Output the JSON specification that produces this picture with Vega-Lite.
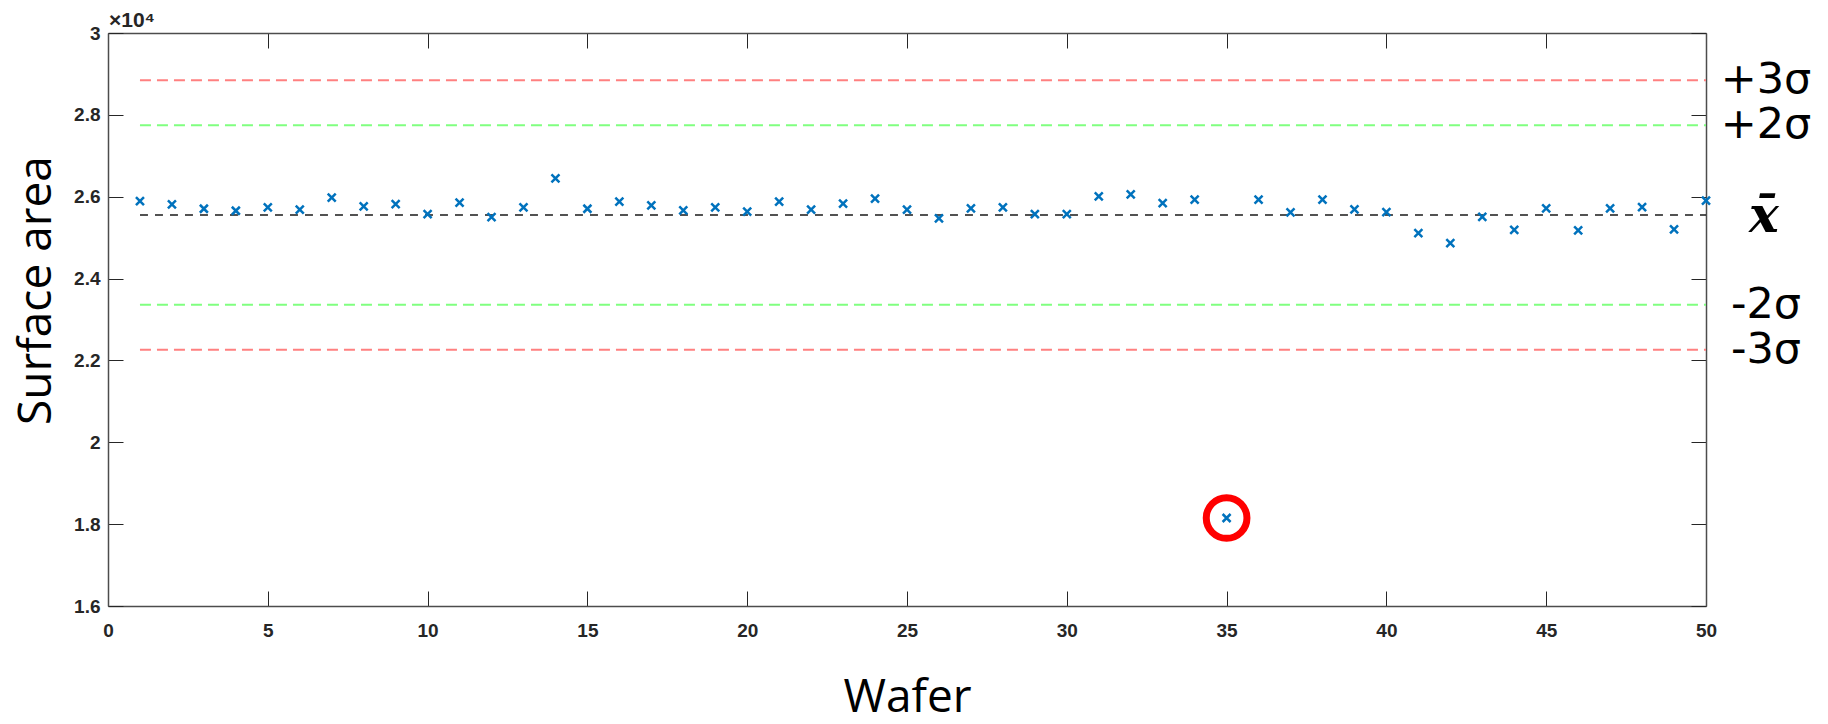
{
  "$schema": "https://vega.github.io/schema/vega-lite/v6.json",
  "width": 1598,
  "height": 573,
  "autosize": "none",
  "padding": {"left": 108, "top": 33, "right": 122, "bottom": 118},
  "background": "white",
  "config": {
    "view": {"stroke": null},
    "axis": {
      "grid": false,
      "domainColor": "#4d4d4d",
      "domainWidth": 1.5,
      "tickColor": "#262626",
      "tickWidth": 1,
      "tickSize": -15,
      "labelFont": "Liberation Sans",
      "labelFontWeight": "bold",
      "labelFontSize": 19,
      "labelColor": "#262626",
      "labelFlush": false,
      "labelOverlap": false
    }
  },
  "datasets": {
    "wafers": [
      {"wafer": 1, "area": 25894}, {"wafer": 2, "area": 25812}, {"wafer": 3, "area": 25706},
      {"wafer": 4, "area": 25657}, {"wafer": 5, "area": 25739}, {"wafer": 6, "area": 25682},
      {"wafer": 7, "area": 25976}, {"wafer": 8, "area": 25763}, {"wafer": 9, "area": 25820},
      {"wafer": 10, "area": 25576}, {"wafer": 11, "area": 25853}, {"wafer": 12, "area": 25502},
      {"wafer": 13, "area": 25739}, {"wafer": 14, "area": 26449}, {"wafer": 15, "area": 25706},
      {"wafer": 16, "area": 25878}, {"wafer": 17, "area": 25788}, {"wafer": 18, "area": 25665},
      {"wafer": 19, "area": 25739}, {"wafer": 20, "area": 25633}, {"wafer": 21, "area": 25878},
      {"wafer": 22, "area": 25682}, {"wafer": 23, "area": 25829}, {"wafer": 24, "area": 25951},
      {"wafer": 25, "area": 25682}, {"wafer": 26, "area": 25469}, {"wafer": 27, "area": 25714},
      {"wafer": 28, "area": 25739}, {"wafer": 29, "area": 25576}, {"wafer": 30, "area": 25576},
      {"wafer": 31, "area": 26008}, {"wafer": 32, "area": 26057}, {"wafer": 33, "area": 25845},
      {"wafer": 34, "area": 25927}, {"wafer": 35, "area": 18150}, {"wafer": 36, "area": 25927},
      {"wafer": 37, "area": 25616}, {"wafer": 38, "area": 25927}, {"wafer": 39, "area": 25690},
      {"wafer": 40, "area": 25624}, {"wafer": 41, "area": 25110}, {"wafer": 42, "area": 24865},
      {"wafer": 43, "area": 25510}, {"wafer": 44, "area": 25192}, {"wafer": 45, "area": 25714},
      {"wafer": 46, "area": 25176}, {"wafer": 47, "area": 25714}, {"wafer": 48, "area": 25747},
      {"wafer": 49, "area": 25200}, {"wafer": 50, "area": 25902}
    ],
    "limits": [
      {"label": "+3σ", "value": 28844, "level": "3σ"},
      {"label": "+2σ", "value": 27747, "level": "2σ"},
      {"label": "x̄", "value": 25553, "level": "mean"},
      {"label": "-2σ", "value": 23359, "level": "2σ"},
      {"label": "-3σ", "value": 22262, "level": "3σ"}
    ],
    "exponent": [
      {"label": "×10⁴"}
    ]
  },
  "layer": [
    {
      "data": {"name": "limits"},
      "mark": {"type": "rule"},
      "encoding": {
        "x": {
          "datum": 1, "type": "quantitative",
          "scale": {"domain": [0, 50], "nice": false, "zero": false},
          "axis": {
            "orient": "bottom",
            "values": [0, 5, 10, 15, 20, 25, 30, 35, 40, 45, 50],
            "labelPadding": 30,
            "title": "Wafer",
            "titleFont": "Open Sans",
            "titleFontSize": 46,
            "titleFontWeight": "normal",
            "titleColor": "black",
            "titleY": 105,
            "titleBaseline": "alphabetic",
            "titleAnchor": "middle"
          }
        },
        "x2": {"datum": 50},
        "y": {
          "field": "value", "type": "quantitative",
          "scale": {"domain": [16000, 30000], "nice": false, "zero": false},
          "axis": {
            "orient": "left",
            "values": [16000, 18000, 20000, 22000, 24000, 26000, 28000, 30000],
            "labelExpr": "format(datum.value / 10000, '.2~g')",
            "labelPadding": 23,
            "title": "Surface area",
            "titleFont": "Open Sans",
            "titleFontSize": 46,
            "titleFontWeight": "normal",
            "titleColor": "black",
            "titleX": -58,
            "titleY": 257,
            "titleAngle": 270,
            "titleBaseline": "alphabetic",
            "titleAlign": "center"
          }
        },
        "color": {
          "field": "level", "type": "nominal",
          "scale": {"domain": ["3σ", "2σ", "mean"], "range": ["#ff8080", "#80ff80", "#1a1a1a"]},
          "legend": null
        },
        "strokeDash": {
          "field": "level", "type": "nominal",
          "scale": {"domain": ["3σ", "2σ", "mean"], "range": [[11, 6], [11, 6], [8, 7]]},
          "legend": null
        },
        "strokeWidth": {
          "condition": {"test": "datum.level === 'mean'", "value": 1.3},
          "value": 2
        }
      }
    },
    {
      "data": {"name": "wafers"},
      "mark": {
        "type": "point",
        "shape": "M-1,-1L1,1M-1,1L1,-1",
        "size": 64,
        "filled": false,
        "color": "#0072BD",
        "strokeWidth": 2.5,
        "opacity": 1
      },
      "encoding": {
        "x": {
          "field": "wafer", "type": "quantitative",
          "scale": {"domain": [0, 50], "nice": false, "zero": false},
          "axis": {
            "orient": "top",
            "values": [0, 5, 10, 15, 20, 25, 30, 35, 40, 45, 50],
            "labels": false,
            "title": null
          }
        },
        "y": {
          "field": "area", "type": "quantitative",
          "scale": {"domain": [16000, 30000], "nice": false, "zero": false},
          "axis": {
            "orient": "right",
            "values": [16000, 18000, 20000, 22000, 24000, 26000, 28000, 30000],
            "labels": false,
            "title": null
          }
        }
      }
    },
    {
      "data": {"name": "wafers"},
      "transform": [{"filter": "datum.wafer === 35"}],
      "mark": {
        "type": "point",
        "shape": "circle",
        "size": 1656,
        "filled": false,
        "color": "#ff0000",
        "strokeWidth": 7,
        "opacity": 1
      },
      "encoding": {
        "x": {"field": "wafer", "type": "quantitative", "axis": null},
        "y": {"field": "area", "type": "quantitative", "axis": null}
      }
    },
    {
      "data": {"name": "limits"},
      "transform": [{"filter": "datum.level !== 'mean'"}],
      "mark": {
        "type": "text",
        "dx": 60,
        "dy": 0,
        "align": "center",
        "baseline": "middle",
        "font": "DejaVu Sans",
        "fontSize": 43,
        "color": "black",
        "clip": false
      },
      "encoding": {
        "x": {"datum": 50, "type": "quantitative", "axis": null},
        "y": {"field": "value", "type": "quantitative", "axis": null},
        "text": {"field": "label"}
      }
    },
    {
      "data": {"name": "limits"},
      "transform": [{"filter": "datum.level === 'mean'"}],
      "mark": {
        "type": "text",
        "dx": 58,
        "dy": 2,
        "align": "center",
        "baseline": "middle",
        "font": "DejaVu Serif",
        "fontStyle": "italic",
        "fontWeight": "bold",
        "fontSize": 50,
        "color": "black",
        "clip": false
      },
      "encoding": {
        "x": {"datum": 50, "type": "quantitative", "axis": null},
        "y": {"field": "value", "type": "quantitative", "axis": null},
        "text": {"field": "label"}
      }
    },
    {
      "data": {"name": "exponent"},
      "mark": {
        "type": "text",
        "dx": 1,
        "dy": -6,
        "align": "left",
        "baseline": "alphabetic",
        "font": "Liberation Sans",
        "fontSize": 21,
        "fontWeight": "bold",
        "color": "#262626",
        "clip": false
      },
      "encoding": {
        "x": {"datum": 0, "type": "quantitative", "axis": null},
        "y": {"datum": 30000, "type": "quantitative", "axis": null},
        "text": {"field": "label"}
      }
    }
  ],
  "resolve": {"axis": {"x": "independent", "y": "independent"}}
}
